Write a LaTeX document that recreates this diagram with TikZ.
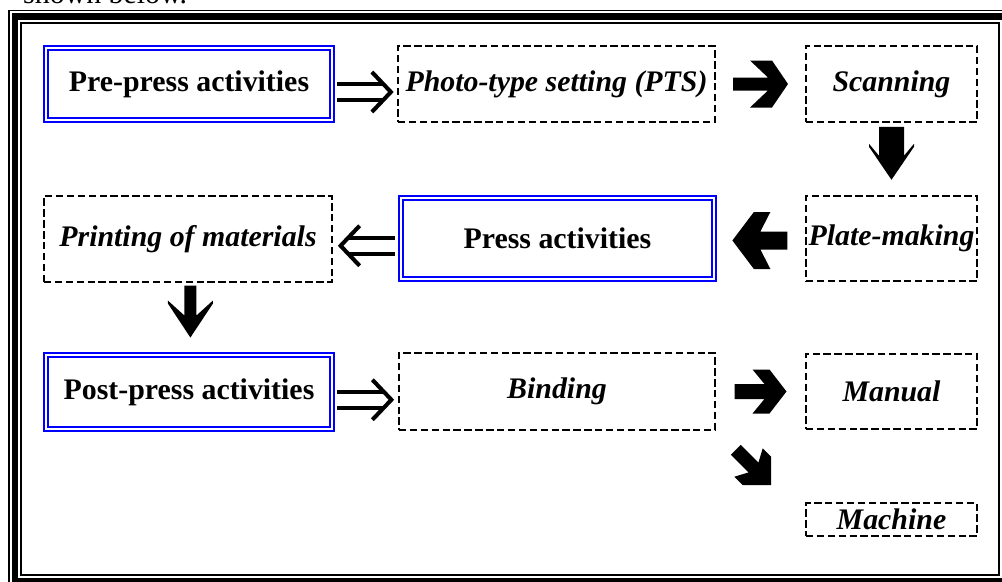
\documentclass[tikz,border=0pt]{standalone}
\usepackage{fontspec}
\setmainfont{Liberation Serif}
\usetikzlibrary{calc}

% heavy block arrow: centre, angle, length, head half width, shaft half width,
% head depth, wing back, notch depth
\newcommand{\fatarrow}[8]{%
  \fill[shift={#1}, rotate=#2]
    ({#3/2},0) -- ({#3/2-#6},#4) -- ({#3/2-#7},#4) -- ({#3/2-#8},#5)
    -- ({-#3/2},#5) -- ({-#3/2},-#5) -- ({#3/2-#8},-#5)
    -- ({#3/2-#7},-#4) -- ({#3/2-#6},-#4) -- cycle;
}
% double-stroke arrow: centre, angle
\newcommand{\dblarrow}[2]{%
  \begin{scope}[shift={#1}, rotate=#2, line width=2.3pt]
    \draw (-28,-8) -- (19,-8) (-28,8) -- (19,8);
    \draw[line join=miter] (7,-20) -- (26,0) -- (7,20);
  \end{scope}
}

\begin{document}
\begin{tikzpicture}[
    x=0.02cm, y=-0.02cm,
    mainbox/.style={draw=blue, line width=1.14pt, double=white, double distance=1.14pt,
      inner sep=0pt, font=\fontsize{17}{20}\selectfont\bfseries},
    subbox/.style={draw=black, line width=1.4pt, dash pattern=on 4.2pt off 2pt,
      inner sep=0pt, font=\fontsize{17}{20}\selectfont\bfseries\itshape}
]
\useasboundingbox (0,0) rectangle (1002,582);

% frame
\draw[line width=1.1pt] (9.3,10.5) rectangle (1011,592);
\draw[line width=3.8pt] (15,16.5) rectangle (1005,581);
\draw[line width=1.14pt] (21,23) rectangle (999,575);

\node[anchor=base west, font=\fontsize{17}{20}\selectfont] (note) at (17,3) {shown below.};

% row 1
\node[mainbox, minimum width=286*0.02cm, minimum height=72*0.02cm] (pre) at (189,84) {Pre-press activities};
\node[subbox, minimum width=317*0.02cm, minimum height=76*0.02cm] (pts) at (556.5,84) {Photo-type setting (PTS)};
\node[subbox, minimum width=171*0.02cm, minimum height=76*0.02cm] (scan) at (891.5,84) {Scanning};

% row 2
\node[subbox, minimum width=288*0.02cm, minimum height=86*0.02cm] (printing) at (188,239) {Printing of materials};
\node[mainbox, minimum width=313*0.02cm, minimum height=81*0.02cm] (press) at (557.5,238.5) {Press activities};
\node[subbox, minimum width=171*0.02cm, minimum height=85*0.02cm] (plate) at (891.5,238.5) {Plate-making};

% row 3
\node[mainbox, minimum width=286*0.02cm, minimum height=74*0.02cm] (post) at (189,392) {Post-press activities};
\node[subbox, minimum width=316*0.02cm, minimum height=77*0.02cm] (binding) at (557,391.5) {Binding};
\node[subbox, minimum width=171*0.02cm, minimum height=75*0.02cm] (manual) at (891.5,391.5) {Manual};
\node[subbox, minimum width=171*0.02cm, minimum height=33*0.02cm] (machine) at (891.5,519.5) {Machine};

% arrows
\dblarrow{($(pre.east)!0.5!(pts.west)+(0,8)$)}{0}
\dblarrow{($(press.west)!0.5!(printing.east)+(0,7)$)}{180}
\dblarrow{($(post.east)!0.5!(binding.west)+(0,8)$)}{0}

\fatarrow{($(pts.east)!0.5!(scan.west)$)}{0}{55}{23.5}{6.5}{16}{38}{20}
\fatarrow{($(scan.south)!0.42!(plate.north)$)}{-90}{53}{22.5}{12.5}{33}{36}{24}
\fatarrow{($(plate.west)!0.5!(press.east)+(0,2)$)}{180}{55}{28.5}{9}{21.5}{38}{28}
\fatarrow{($(printing.south)!0.4!(post.north)+(2,0)$)}{-90}{52}{22.5}{6}{34}{37}{22}
\fatarrow{($(binding.east)!0.5!(manual.west)$)}{0}{52}{22}{7.5}{17}{34}{22}
\fatarrow{($(binding.south east)!0.5!(machine.north west)+(-7,1)$)}{-45}{50}{20}{7}{20}{32}{25}
\end{tikzpicture}
\end{document}
